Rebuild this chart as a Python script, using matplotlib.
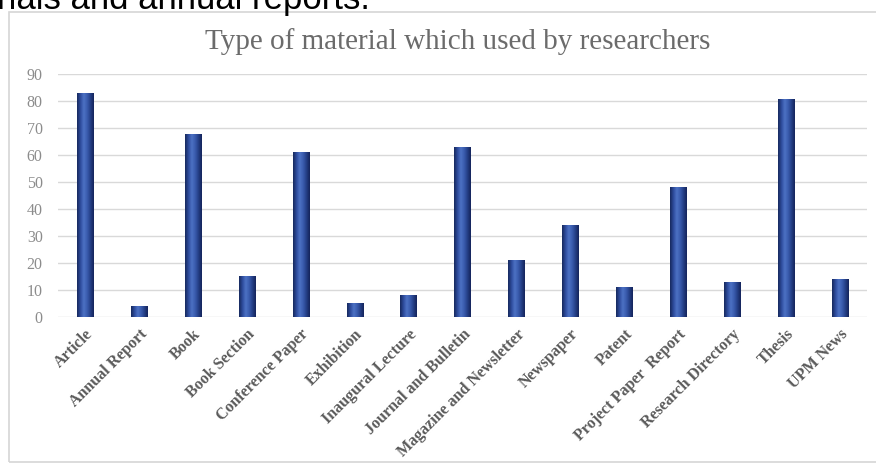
import matplotlib
matplotlib.use("Agg")
import matplotlib.pyplot as plt
import numpy as np
from matplotlib.patches import Rectangle
from matplotlib.colors import LinearSegmentedColormap

categories = ["Article", "Annual Report", "Book", "Book Section", "Conference Paper",
              "Exhibition", "Inaugural Lecture", "Journal and Bulletin",
              "Magazine and Newsletter", "Newspaper", "Patent", "Project Paper  Report",
              "Research Directory", "Thesis", "UPM News"]
values = [83, 4, 68, 15, 61, 5, 8, 63, 21, 34, 11, 48, 13, 81, 14]
yticks = [0, 10, 20, 30, 40, 50, 60, 70, 80, 90]

W, H = 876, 465
fig = plt.figure(figsize=(W / 100, H / 100), dpi=100)
fig.patch.set_facecolor("white")

# outer chart frame
frame = Rectangle((9 / W, 3 / H), 1.0, 450 / H, transform=fig.transFigure,
                  facecolor="none", edgecolor="#d6d6d6", linewidth=1.2, zorder=-5)
fig.add_artist(frame)

# cropped text above the chart
fig.text(-0.003, (H - 9) / H, "rials and annual reports.", fontsize=25,
         family="Liberation Sans", color="black", va="baseline", ha="left")

ax = fig.add_axes([58 / W, (H - 316.7) / H, 809 / W, (316.7 - 74.3) / H])
ax.set_facecolor("none")
x = np.arange(len(categories))
bars = ax.bar(x, values, width=0.3, color="#2c4a98", edgecolor="none", zorder=3)

cmap = LinearSegmentedColormap.from_list(
    "cyl", ["#16285c", "#2d4b9c", "#4d72c4", "#3a5cae", "#243f86", "#14245a"])
grad = np.linspace(0, 1, 64).reshape(1, -1)
for b in bars:
    x0, w, h = b.get_x(), b.get_width(), b.get_height()
    im = ax.imshow(grad, cmap=cmap, aspect="auto", extent=(x0, x0 + w, 0, h),
                   zorder=4, interpolation="bicubic")
    im.set_clip_path(b)

ax.set_xlim(-0.5, len(categories) - 0.5)
ax.set_ylim(0, 90)
ax.set_yticks(yticks)
ax.set_yticklabels([str(v) for v in yticks], family="Liberation Serif",
                   fontsize=11.5, color="#8c8c8c")
ax.yaxis.grid(True, color="#d9d9d9", linewidth=1.0, zorder=0)
ax.set_axisbelow(True)
for s in ax.spines.values():
    s.set_visible(False)
ax.tick_params(axis="y", length=0, pad=11)
ax.tick_params(axis="x", length=0, pad=7)
ax.set_xticks(x)
ax.set_xticklabels(categories, rotation=45, ha="right", rotation_mode="anchor",
                   family="Liberation Serif", fontweight="bold", fontsize=11.5,
                   color="#5a5a5a")

fig.text(458 / W, (H - 42) / H, "Type of material which used by researchers",
         family="Liberation Serif", fontsize=21, color="#6b6b6b", ha="center",
         va="center")

fig.savefig("out.png", dpi=100, facecolor="white")
